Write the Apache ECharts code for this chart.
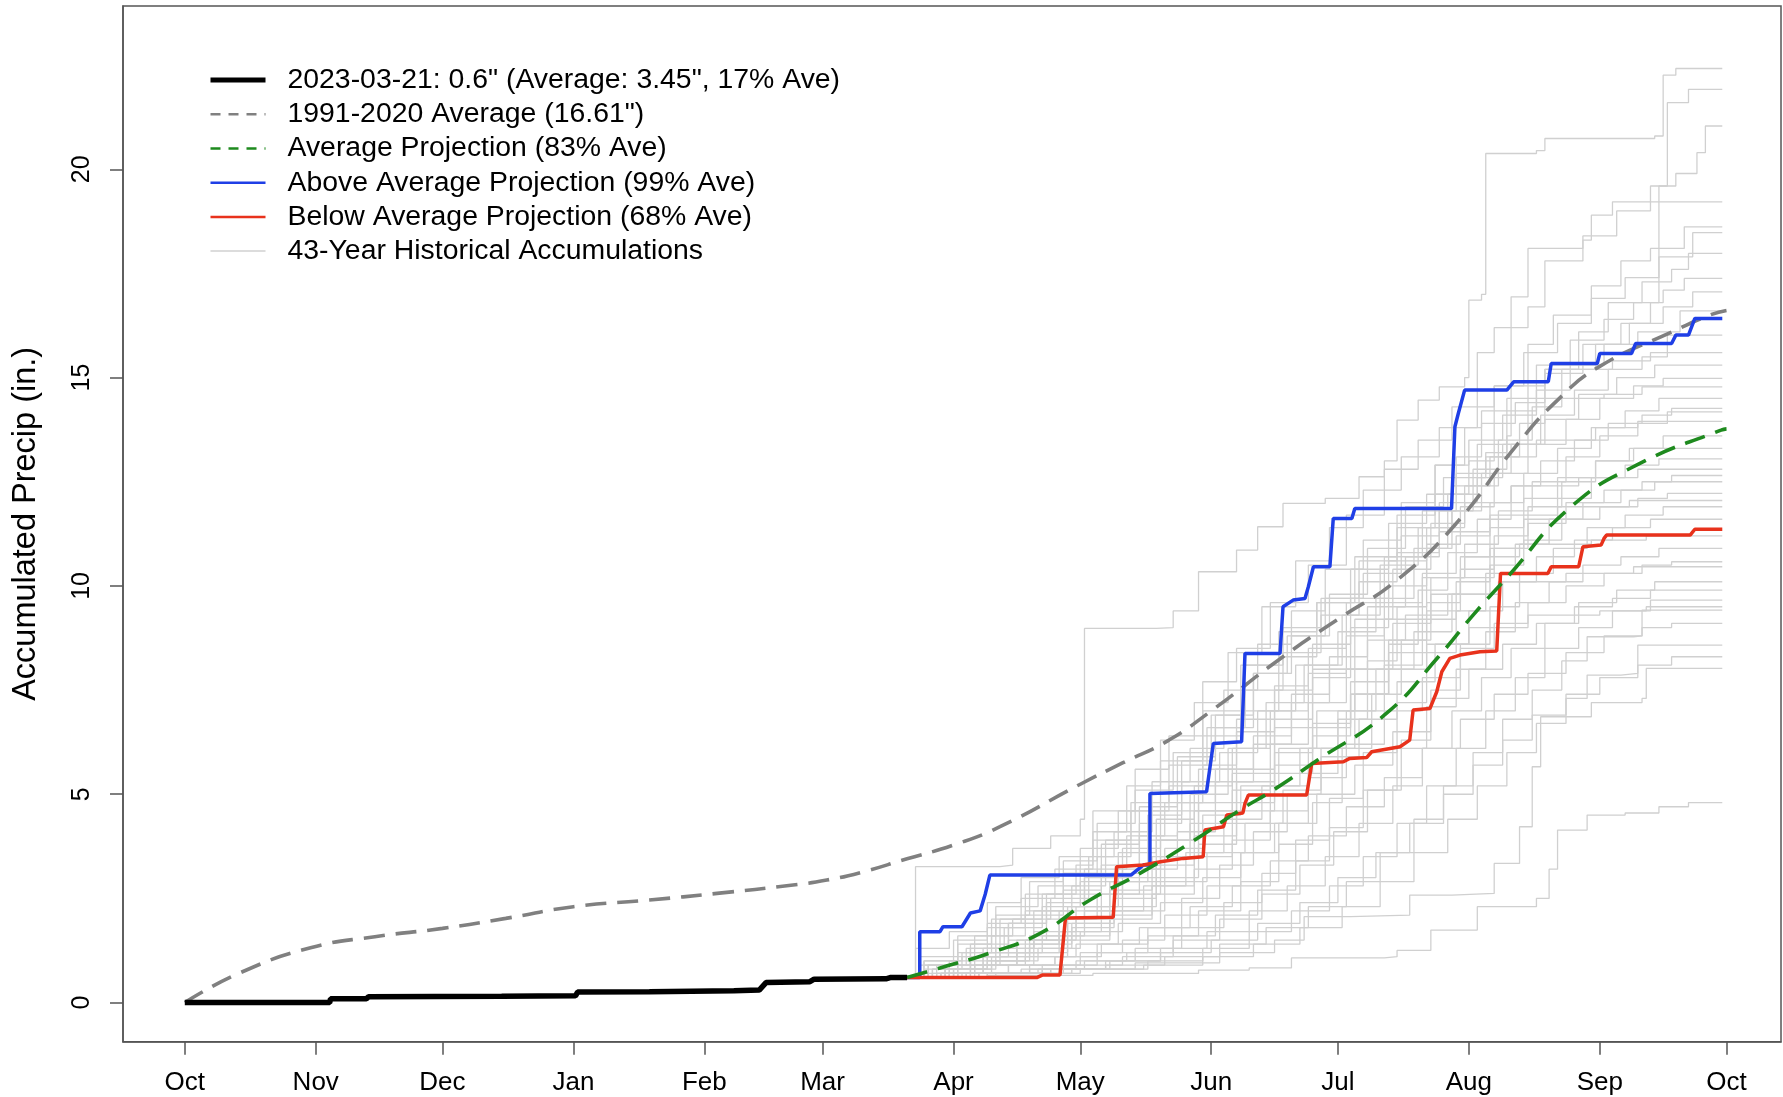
<!DOCTYPE html>
<html>
<head>
<meta charset="utf-8">
<script src="https://cdn.jsdelivr.net/npm/echarts@6/dist/echarts.min.js"></script>
<style>
html,body{margin:0;padding:0;background:#fff;}
#chart{width:1783px;height:1097px;}
</style>
</head>
<body>
<div id="chart"></div>
<script>
// ---- Data (x = day of water year, 0 = Oct 1; y = inches) ----
const monthDays   = [0,31,61,92,123,151,182,212,243,273,304,335,365];
const monthLabels = ['Oct','Nov','Dec','Jan','Feb','Mar','Apr','May','Jun','Jul','Aug','Sep','Oct'];
const yTicks = [0,5,10,15,20];

const currentYear = [[0,0],[34.3,0],[34.5,0.09],[43,0.09],[43.5,0.14],[75,0.15],[92.5,0.16],[93,0.25],[110,0.26],[130,0.28],[136,0.30],[137.6,0.48],[148,0.5],[149,0.56],[166,0.57],[167,0.6],[171,0.6]];

const average = [[0,0],[13,0.71],[30,1.32],[45,1.58],[61,1.78],[76,2.02],[92,2.30],[110,2.46],[126,2.62],[144,2.82],[152,2.94],[160,3.12],[171,3.45],[182,3.78],[193,4.22],[212,5.24],[222,5.75],[233,6.30],[243,7.0],[260,8.3],[273,9.2],[287,10.14],[301,11.5],[315,13.34],[325,14.46],[335,15.27],[353,16.14],[361,16.5],[365,16.61]];

const avgProjection = [[171,0.6],[178.8,0.83],[190.6,1.19],[202.5,1.66],[214.3,2.46],[226.1,3.1],[238,3.83],[249.8,4.62],[257.7,5.1],[268.2,5.82],[284.6,6.95],[296.8,8.3],[305,9.3],[313.2,10.22],[328.2,11.9],[344.5,12.94],[363.7,13.74],[365,13.77]];

const aboveProjection = [[171,0.6],[174,0.6],[174,1.70],[178.8,1.70],[179.5,1.82],[184,1.82],[186,2.15],[188.3,2.2],[189.5,2.6],[190.6,3.06],[224,3.06],[226.9,3.3],[228.5,3.3],[228.5,5.02],[241.9,5.06],[243.5,6.22],[250.2,6.26],[251,8.38],[259.3,8.38],[260,9.50],[262.4,9.66],[265.2,9.70],[266,9.98],[267.2,10.46],[271.1,10.46],[271.9,11.62],[276.3,11.62],[277,11.86],[299.9,11.86],[300.7,13.82],[301.5,14.14],[303,14.70],[313,14.70],[314.6,14.90],[322.8,14.90],[323.5,15.34],[334.4,15.34],[335,15.58],[342.5,15.58],[343.5,15.82],[352,15.82],[353,16.02],[356,16.02],[357.5,16.42],[364,16.42]];

const belowProjection = [[171,0.6],[201.7,0.6],[203,0.66],[207.2,0.66],[208.5,2.03],[219.8,2.05],[220.6,3.26],[226.9,3.3],[231,3.38],[236.4,3.46],[241.1,3.5],[241.5,4.14],[245.9,4.22],[246.7,4.5],[250.5,4.55],[251,4.78],[251.8,4.98],[265.6,4.98],[266.8,5.74],[274.3,5.78],[275.8,5.86],[279.8,5.88],[281,6.02],[287.7,6.14],[290,6.30],[290.8,7.02],[294.8,7.06],[296.4,7.46],[297.6,7.94],[299.5,8.26],[301.9,8.34],[306.6,8.42],[310.6,8.44],[311.5,10.30],[322.7,10.30],[323.5,10.46],[330,10.46],[331,10.94],[335.3,10.98],[336,11.14],[336.6,11.22],[356.4,11.22],[357.5,11.36],[364,11.36]];

const historical = [
 [[171,.6],[173,3.26],[193,3.3],[196,3.7],[205,4.0],[212,4.4],[213,8.98],[230,9.0],[234,9.4],[240,10.34],[249,10.86],[254,11.42],[260,11.98],[270,12.1],[278,12.62],[284,13.0],[287,13.98],[292,14.46],[297,14.78],[303,15.0],[304,16.86],[307,17.0],[308,20.38],[320,20.45],[322,20.74],[348,20.8],[350,22.26],[353,22.42],[364,22.42]],
 [[171,.6],[174,0.9],[182,1.1],[190,1.8],[199,2.2],[208,3.1],[216,3.5],[224,4.6],[233,5.2],[241,6.4],[250,7.0],[259,8.3],[268,9.6],[276,10.4],[285,11.5],[294,12.2],[301,13.1],[307,13.9],[315,14.4],[322,15.1],[331,15.8],[340,16.3],[347,16.8],[349,19.6],[351,21.6],[356,21.92],[364,21.92]],
 [[171,.6],[177,0.8],[187,1.6],[196,2.0],[205,2.5],[214,3.5],[220,4.1],[229,5.3],[238,6.1],[246,7.5],[254,8.6],[262,9.4],[270,10.4],[279,11.1],[288,12.0],[296,12.9],[303,13.8],[306,15.6],[310,16.2],[318,16.7],[322,17.8],[331,18.4],[339,19.0],[347,19.6],[353,19.9],[358,20.4],[360,21.04],[364,21.04]],
 [[171,.6],[178,0.7],[186,1.4],[195,1.9],[204,2.6],[213,3.2],[223,4.0],[232,4.8],[241,5.7],[249,6.8],[258,7.6],[266,8.5],[275,9.6],[284,10.7],[293,11.8],[301,12.7],[308,13.2],[313,13.6],[314,16.94],[318,18.1],[331,18.3],[333,18.9],[338,19.22],[364,19.22]],
 [[171,.6],[181,1.0],[189,1.3],[201,2.2],[210,2.8],[218,3.9],[228,4.5],[236,5.8],[244,6.6],[253,7.9],[261,8.8],[270,9.7],[279,10.3],[288,11.2],[297,12.0],[306,12.6],[312,13.4],[318,15.8],[324,16.5],[333,17.2],[340,17.8],[347,18.1],[355,18.62],[364,18.62]],
 [[171,.6],[175,0.8],[184,1.1],[193,2.0],[203,2.6],[211,3.3],[215,4.6],[225,5.1],[234,6.0],[243,6.9],[251,8.1],[260,9.0],[269,9.7],[278,10.6],[287,11.4],[296,12.2],[304,13.0],[310,14.8],[317,15.6],[325,16.3],[333,16.9],[341,17.4],[349,17.9],[357,18.48],[364,18.48]],
 [[171,.6],[180,0.8],[190,1.2],[200,1.6],[209,2.3],[219,2.9],[228,3.9],[238,5.0],[247,6.1],[256,7.2],[265,8.1],[274,9.3],[283,10.5],[292,11.4],[300,12.4],[309,13.1],[316,13.9],[322,15.2],[330,16.1],[337,16.8],[345,17.3],[352,17.6],[356,17.98],[364,17.98]],
 [[171,.6],[176,0.7],[186,1.1],[197,1.5],[207,2.2],[217,3.1],[226,4.3],[236,5.3],[245,6.0],[254,7.0],[263,8.1],[273,8.9],[282,9.7],[291,10.9],[299,12.2],[306,13.4],[313,14.5],[320,15.3],[328,15.9],[336,16.4],[343,16.8],[350,17.1],[355,17.38],[364,17.38]],
 [[171,.6],[183,0.9],[192,1.3],[201,1.7],[211,2.0],[220,2.6],[231,3.5],[240,4.8],[249,5.6],[258,6.8],[267,8.0],[277,9.2],[286,10.4],[295,11.5],[303,12.4],[311,13.5],[319,14.3],[326,15.2],[334,15.8],[342,16.3],[350,16.7],[357,17.06],[364,17.06]],
 [[171,.6],[175,1.0],[184,1.2],[192,2.3],[202,2.8],[212,3.7],[221,4.6],[231,5.8],[241,7.0],[250,8.1],[259,8.9],[268,9.6],[277,10.7],[287,11.7],[296,12.9],[304,13.5],[312,14.1],[320,14.7],[328,15.3],[336,15.8],[344,16.1],[354,16.6],[364,16.6]],
 [[171,.6],[179,0.7],[187,0.9],[197,1.4],[207,2.0],[216,2.6],[226,3.2],[235,4.1],[244,5.3],[253,6.2],[262,7.4],[271,8.3],[280,9.5],[289,10.7],[297,11.8],[305,12.8],[313,13.4],[321,14.1],[329,14.7],[337,15.2],[345,15.5],[351,16.02],[364,16.02]],
 [[171,.6],[176,0.9],[183,1.6],[192,2.1],[200,2.9],[208,3.4],[216,4.3],[225,5.6],[233,6.4],[241,7.7],[249,8.5],[257,9.6],[266,10.5],[275,11.7],[284,12.8],[292,13.5],[300,14.3],[310,14.8],[322,15.2],[338,15.4],[347,15.6],[364,15.6]],
 [[171,.6],[185,0.7],[200,0.9],[212,1.2],[222,1.5],[232,2.1],[242,2.8],[250,3.6],[258,4.3],[266,5.5],[273,6.8],[280,8.2],[287,9.5],[294,10.9],[300,11.8],[307,12.7],[314,13.4],[322,14.0],[330,14.6],[339,15.0],[348,15.3],[364,15.3]],
 [[171,.6],[182,0.8],[191,1.1],[201,1.5],[211,2.3],[221,3.0],[230,3.9],[239,4.6],[248,5.5],[258,6.6],[267,7.8],[276,9.0],[285,10.0],[294,11.0],[302,11.9],[310,12.7],[318,13.4],[327,14.0],[335,14.5],[343,14.8],[350,14.98],[364,14.98]],
 [[171,.6],[173,1.3],[181,1.7],[190,2.4],[198,3.0],[207,3.5],[215,4.1],[223,5.2],[231,6.3],[239,7.2],[247,8.4],[255,9.5],[263,10.6],[271,11.4],[279,12.3],[288,13.1],[297,13.8],[307,14.2],[320,14.5],[336,14.6],[345,14.78],[364,14.78]],
 [[171,.6],[180,0.9],[189,1.2],[199,1.5],[209,1.9],[219,2.7],[229,3.5],[238,4.3],[248,5.1],[257,6.2],[266,7.2],[275,8.0],[284,9.2],[293,10.3],[301,11.2],[309,12.0],[317,12.7],[325,13.3],[333,13.8],[341,14.2],[349,14.5],[364,14.5]],
 [[171,.6],[182,0.7],[195,0.9],[206,1.1],[216,1.4],[226,1.8],[236,2.5],[245,3.3],[253,4.1],[261,5.0],[269,6.1],[277,7.4],[285,8.6],[292,9.9],[299,10.8],[306,11.6],[314,12.4],[321,13.0],[329,13.5],[337,13.9],[345,14.1],[352,14.26],[364,14.26]],
 [[171,.6],[183,0.9],[193,1.2],[203,1.6],[213,2.2],[222,2.9],[232,3.7],[241,4.5],[250,5.2],[259,6.1],[268,7.0],[277,8.0],[286,9.1],[295,10.2],[303,11.0],[311,11.8],[319,12.5],[327,13.1],[335,13.6],[344,13.9],[351,14.18],[364,14.18]],
 [[171,.6],[175,1.0],[183,1.4],[191,2.0],[199,2.6],[208,3.1],[217,3.8],[226,4.7],[235,5.9],[244,6.9],[253,7.9],[262,8.8],[271,9.8],[280,10.9],[289,11.9],[298,12.6],[308,13.1],[320,13.5],[334,13.8],[344,13.95],[364,13.95]],
 [[171,.6],[181,0.8],[190,1.1],[200,1.4],[210,1.9],[220,2.5],[230,3.3],[239,4.0],[249,4.8],[258,5.7],[267,6.6],[276,7.7],[285,8.7],[294,9.6],[302,10.4],[310,11.2],[318,11.9],[326,12.5],[334,13.0],[342,13.3],[350,13.6],[364,13.6]],
 [[171,.6],[188,0.7],[203,0.9],[216,1.2],[228,1.6],[240,2.2],[250,2.9],[259,3.8],[267,4.8],[274,6.1],[281,7.4],[288,8.7],[295,9.8],[302,10.7],[309,11.4],[317,12.1],[325,12.6],[334,13.0],[343,13.3],[364,13.3]],
 [[171,.6],[179,0.7],[189,1.0],[199,1.2],[209,1.6],[219,2.1],[229,2.8],[239,3.5],[248,4.3],[257,5.2],[266,6.1],[275,7.0],[284,8.1],[293,9.2],[301,10.1],[309,10.9],[317,11.6],[325,12.1],[333,12.6],[341,12.9],[349,13.05],[364,13.05]],
 [[171,.6],[178,0.9],[186,1.3],[195,1.9],[204,2.4],[213,3.0],[222,3.7],[231,4.6],[240,5.6],[249,6.5],[258,7.5],[267,8.6],[276,9.7],[285,10.6],[294,11.4],[303,12.0],[314,12.4],[330,12.6],[344,12.8],[364,12.8]],
 [[171,.6],[180,0.8],[190,1.0],[200,1.3],[210,1.8],[220,2.3],[230,3.0],[240,3.8],[249,4.6],[258,5.5],[267,6.4],[276,7.4],[285,8.4],[294,9.4],[302,10.2],[310,10.9],[318,11.5],[327,12.0],[336,12.3],[345,12.5],[352,12.65],[364,12.65]],
 [[171,.6],[186,0.7],[200,0.8],[213,1.0],[225,1.3],[236,1.8],[246,2.4],[255,3.1],[263,3.9],[271,4.9],[279,6.0],[287,7.2],[294,8.4],[301,9.4],[308,10.3],[315,11.0],[323,11.6],[331,12.0],[340,12.3],[348,12.5],[364,12.5]],
 [[171,.6],[177,0.7],[187,0.9],[197,1.2],[207,1.7],[217,2.2],[227,2.8],[237,3.6],[246,4.4],[255,5.2],[264,6.1],[273,7.0],[282,8.0],[291,8.9],[300,9.8],[309,10.5],[317,11.1],[326,11.6],[335,11.9],[344,12.1],[351,12.22],[364,12.22]],
 [[171,.6],[174,1.1],[182,1.5],[190,1.9],[198,2.5],[206,3.2],[215,3.9],[224,4.8],[233,5.7],[242,6.6],[251,7.5],[260,8.4],[269,9.3],[278,10.1],[287,10.8],[297,11.3],[309,11.7],[325,11.9],[342,12.05],[364,12.05]],
 [[171,.6],[190,0.7],[208,0.9],[222,1.1],[234,1.5],[245,2.0],[255,2.6],[264,3.3],[272,4.1],[280,5.1],[288,6.3],[295,7.5],[302,8.6],[309,9.5],[316,10.3],[324,10.9],[332,11.4],[341,11.7],[350,11.9],[364,11.9]],
 [[171,.6],[182,0.8],[192,1.0],[202,1.3],[212,1.7],[222,2.2],[232,2.9],[242,3.6],[251,4.3],[260,5.1],[269,5.9],[278,6.8],[287,7.7],[296,8.6],[304,9.4],[312,10.1],[320,10.7],[329,11.1],[338,11.4],[347,11.6],[364,11.6]],
 [[171,.6],[176,0.9],[185,1.3],[194,1.8],[203,2.3],[212,2.9],[221,3.6],[230,4.4],[239,5.2],[248,6.1],[257,7.0],[266,7.9],[275,8.8],[284,9.6],[293,10.2],[303,10.7],[316,11.0],[333,11.1],[346,11.2],[364,11.2]],
 [[171,.6],[184,0.7],[198,0.8],[211,1.0],[223,1.2],[234,1.6],[244,2.1],[254,2.7],[263,3.4],[271,4.2],[279,5.1],[287,6.1],[294,7.1],[301,8.0],[308,8.9],[315,9.6],[323,10.1],[331,10.5],[340,10.7],[349,10.9],[364,10.9]],
 [[171,.6],[179,0.7],[189,0.9],[199,1.1],[209,1.5],[219,2.0],[229,2.6],[239,3.2],[248,3.9],[257,4.6],[266,5.4],[275,6.2],[284,7.0],[293,7.8],[302,8.5],[310,9.1],[318,9.6],[327,10.0],[336,10.3],[345,10.5],[352,10.58],[364,10.58]],
 [[171,.6],[175,0.9],[183,1.2],[191,1.6],[199,2.1],[208,2.7],[217,3.3],[226,4.0],[235,4.8],[244,5.6],[253,6.4],[262,7.2],[271,8.0],[280,8.7],[289,9.3],[299,9.8],[311,10.1],[327,10.3],[343,10.46],[364,10.46]],
 [[171,.6],[188,0.7],[205,0.8],[219,1.0],[231,1.3],[242,1.7],[252,2.2],[261,2.8],[270,3.5],[278,4.3],[286,5.2],[293,6.1],[300,7.0],[307,7.8],[314,8.5],[322,9.1],[330,9.6],[339,9.9],[348,10.1],[364,10.1]],
 [[171,.6],[181,0.7],[191,0.9],[201,1.1],[211,1.4],[221,1.9],[231,2.4],[241,3.0],[250,3.6],[259,4.3],[268,5.0],[277,5.7],[286,6.5],[295,7.3],[304,8.0],[312,8.6],[320,9.1],[329,9.5],[338,9.7],[347,9.9],[364,9.9]],
 [[171,.6],[192,0.7],[212,0.8],[228,1.0],[241,1.3],[252,1.7],[262,2.2],[271,2.8],[279,3.5],[287,4.3],[294,5.2],[301,6.1],[308,7.0],[315,7.8],[322,8.5],[330,9.0],[338,9.4],[347,9.66],[364,9.66]],
 [[171,.6],[177,0.8],[186,1.1],[195,1.5],[204,2.0],[213,2.6],[222,3.2],[231,3.9],[240,4.6],[249,5.3],[258,6.0],[267,6.7],[276,7.4],[285,8.0],[294,8.6],[304,9.0],[318,9.3],[335,9.4],[346,9.5],[364,9.5]],
 [[171,.6],[186,0.7],[202,0.8],[218,0.9],[232,1.1],[245,1.4],[256,1.8],[266,2.3],[275,2.9],[283,3.6],[291,4.4],[298,5.2],[305,6.0],[312,6.8],[319,7.5],[326,8.2],[332,8.78],[343,8.8],[345,9.42],[364,9.42]],
 [[171,.6],[183,0.7],[195,0.9],[206,1.1],[217,1.4],[228,1.8],[238,2.3],[248,2.8],[257,3.4],[266,4.0],[275,4.7],[284,5.4],[293,6.1],[302,6.8],[310,7.4],[318,7.9],[327,8.4],[336,8.8],[345,9.0],[352,9.1],[364,9.1]],
 [[171,.6],[190,0.7],[210,0.8],[227,0.9],[241,1.1],[253,1.4],[264,1.8],[274,2.3],[283,2.9],[291,3.6],[299,4.4],[306,5.2],[313,6.0],[320,6.7],[327,7.3],[332,7.86],[340,7.9],[344,8.58],[364,8.58]],
 [[171,.6],[187,0.7],[203,0.8],[218,1.0],[231,1.2],[243,1.5],[254,1.9],[264,2.4],[273,3.0],[282,3.6],[290,4.3],[298,5.0],[305,5.7],[312,6.3],[319,6.9],[327,7.4],[335,7.8],[344,8.1],[352,8.3],[364,8.3]],
 [[171,.6],[185,0.7],[205,0.8],[225,0.95],[245,1.2],[258,1.5],[265,2.06],[276,2.1],[290,2.58],[300,2.62],[310,3.34],[316,4.22],[319,5.66],[321,6.86],[333,7.2],[345,7.3],[346,8.02],[364,8.02]],
 [[171,.6],[190,0.65],[215,0.7],[240,0.78],[252,0.83],[262,1.07],[284,1.1],[287,1.25],[295,1.74],[306,2.3],[320,2.5],[323,3.2],[325,4.14],[332,4.5],[341,4.55],[349,4.7],[356,4.8],[364,4.8]]
];

const names = {
  current: '2023-03-21: 0.6" (Average: 3.45", 17% Ave)',
  average: '1991-2020 Average (16.61")',
  avgProj: 'Average Projection (83% Ave)',
  above: 'Above Average Projection (99% Ave)',
  below: 'Below Average Projection (68% Ave)',
  hist: '43-Year Historical Accumulations'
};

// ---- Chart ----
const chart = echarts.init(document.getElementById('chart'), null, {renderer: 'canvas'});
const FONT = '"Liberation Sans", Arial, Helvetica, sans-serif';
const histColor = '#d0d0d0';
const colGray = '#808080', colBlue = '#1f3fe6', colRed = '#e8321c', colGreen = '#1e8a1e';

const series = [];
historical.forEach(function (h) {
  series.push({
    type: 'line', name: names.hist, data: h, step: 'end', symbol: 'none',
    silent: true, z: 1, lineStyle: {color: histColor, width: 1.3}, itemStyle: {color: histColor}
  });
});
series.push({type:'line', name:names.average, data:average, smooth:true, symbol:'none', z:3,
  lineStyle:{color:colGray, width:3.6, type:[21,11]}, itemStyle:{color:colGray}});
series.push({type:'line', name:names.above, data:aboveProjection, symbol:'none', z:4,
  lineStyle:{color:colBlue, width:3.5}, itemStyle:{color:colBlue}});
series.push({type:'line', name:names.below, data:belowProjection, symbol:'none', z:4,
  lineStyle:{color:colRed, width:3.5}, itemStyle:{color:colRed}});
series.push({type:'line', name:names.avgProj, data:avgProjection, smooth:true, symbol:'none', z:5,
  lineStyle:{color:colGreen, width:3.6, type:[21,11]}, itemStyle:{color:colGreen}});
series.push({type:'line', name:names.current, data:currentYear, symbol:'none', z:6,
  lineStyle:{color:'#000000', width:5.5}, itemStyle:{color:'#000000'}});

const option = {
  animation: false,
  backgroundColor: '#ffffff',
  textStyle: {fontFamily: FONT},
  grid: {left: 123, top: 6, width: 1658, height: 1035.7, show: true, borderColor: '#555', borderWidth: 1.5, containLabel: false},
  legend: {
    orient: 'vertical', left: 208, top: 63, padding: 0,
    itemWidth: 55, itemHeight: 14, itemGap: 0,
    itemStyle: {opacity: 0},
    data: [
      {name: names.current, lineStyle: {width: 5}},
      {name: names.average, lineStyle: {width: 2.5, type: [10, 8]}},
      {name: names.avgProj, lineStyle: {width: 2.5, type: [10, 8]}},
      {name: names.above, lineStyle: {width: 2.5}},
      {name: names.below, lineStyle: {width: 2.5}},
      {name: names.hist, lineStyle: {width: 1.5}}
    ],
    textStyle: {fontFamily: FONT, fontSize: 28.4, color: '#000', lineHeight: 34.2, padding: [0,0,0,17]},
    selectedMode: false
  },
  xAxis: {
    type: 'value', min: -14.63, max: 377.9,
    axisLine: {show: true, onZero: false, lineStyle: {color: '#555', width: 1.5}},
    axisTick: {show: true, length: 13, customValues: monthDays, lineStyle: {color: '#555', width: 1.5}},
    axisLabel: {customValues: monthDays, margin: 28, fontSize: 26, color: '#000', fontFamily: FONT,
      formatter: function (v) { const i = monthDays.indexOf(Math.round(v)); return i >= 0 ? monthLabels[i] : ''; }},
    splitLine: {show: false}
  },
  yAxis: {
    type: 'value', min: -0.94, max: 23.92,
    name: 'Accumulated Precip (in.)', nameLocation: 'middle', nameGap: 80,
    nameTextStyle: {fontSize: 32.5, color: '#000', fontFamily: FONT},
    axisLine: {show: true, onZero: false, lineStyle: {color: '#555', width: 1.5}},
    axisTick: {show: true, length: 13, customValues: yTicks, lineStyle: {color: '#555', width: 1.5}},
    axisLabel: {customValues: yTicks, rotate: 90, margin: 28, fontSize: 25, color: '#000', fontFamily: FONT},
    splitLine: {show: false}
  },
  series: series
};
chart.setOption(option);
</script>
</body>
</html>
